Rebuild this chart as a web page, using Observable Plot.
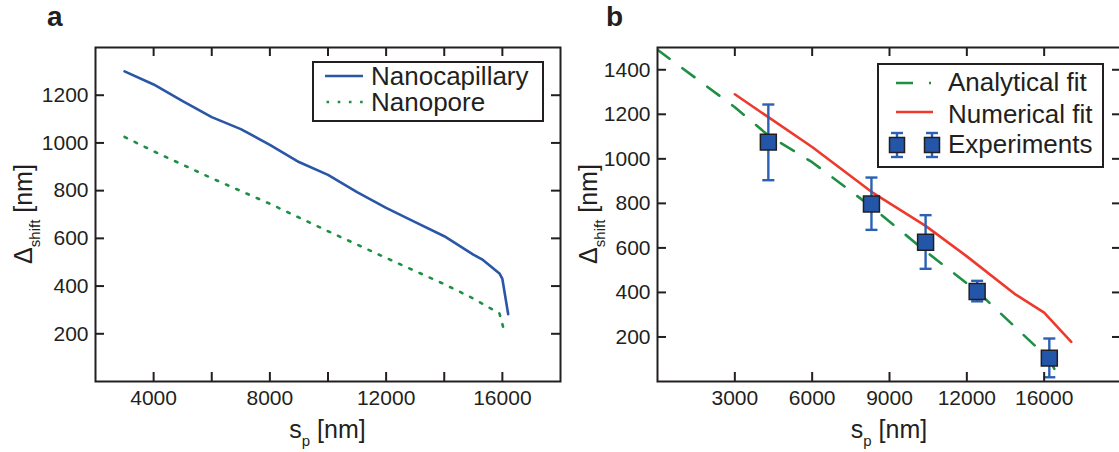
<!DOCTYPE html>
<html><head><meta charset="utf-8">
<script src="https://cdn.jsdelivr.net/npm/d3@7"></script>
<script src="https://cdn.jsdelivr.net/npm/@observablehq/plot@0.6"></script>
<style>
html,body{margin:0;padding:0;background:#fff;overflow:hidden;}
#wrap{position:relative;width:1119px;height:452px;overflow:hidden;background:#fff;}
#wrap svg{position:absolute;top:0;background:transparent;overflow:visible;}
</style></head><body><div id="wrap"></div>
<script>
// ---------- data: panel a ----------
const capX  = [3000,4000,5000,6000,7000,8000,9000,10000,11000,12000,13000,14000,15000,15300,15900,16000,16200];
const capY  = [1300,1245,1175,1108,1058,992,920,866,794,728,668,609,532,512,453,430,282];
const poreX = [3000,4000,6000,8000,10000,12000,14000,15000,15900,16100];
const poreY = [1025,965,852,745,630,518,408,348,285,195];
const aXTickMarks = [4000,6000,8000,10000,12000,14000,16000];
const aXTickLabels = [4000,8000,12000,16000];
const aYTicks = [200,400,600,800,1000,1200];
const aLegend = ["Nanocapillary","Nanopore"];

// ---------- data: panel b ----------
const anaX = [0,3000,4300,6000,8300,10400,12400,15200,15650];
const anaY = [1490,1232,1105,985,785,585,405,100,0];
const numX = [3000,4300,6000,8300,10400,12000,13900,15000,16050];
const numY = [1290,1187,1053,852,699,562,390,309,178];
const expX  = [4300,8300,10400,12400,15200];
const expY  = [1075,797,625,404,105];
const expLo = [904,681,506,360,19];
const expHi = [1244,916,747,452,193];
const bXTickValues = [3000,6000,9000,12000,15000];
const bXTickLabels = ["3000","6000","9000","12000","16000"];
const bYTicks = [200,400,600,800,1000,1200,1400];
const bLegend = ["Analytical fit","Numerical fit","Experiments"];

// ---------- styling ----------
const FONT = '"Liberation Sans", Arial, Helvetica, sans-serif';
const INK = "#231f20";
const BLUE = "#2a56a6", GREEN = "#1f8f45", RED = "#ee3a2c", SQ = "#2356a8", ERR = "#2b60b4";
const H = 452, MT = 47, MB = 71, PH = H - MT - MB, TICK = 9;

const capTable  = capX.map((x, i) => ({x, y: capY[i]}));
const poreTable = poreX.map((x, i) => ({x, y: poreY[i]}));
const anaTable  = anaX.map((x, i) => ({x, y: anaY[i]}));
const numTable  = numX.map((x, i) => ({x, y: numY[i]}));
const expTable  = expX.map((x, i) => ({x, y: expY[i], lo: expLo[i], hi: expHi[i]}));

const capSymbol = {draw(ctx, size) { const w = Math.sqrt(size / Math.PI); ctx.moveTo(-w, 0); ctx.lineTo(w, 0); }};
const plain = d => String(d);

function frameMarks(xt, yt, pw) {
  return [
    Plot.tickX(xt, {x: d => d, insetTop: PH - TICK, stroke: INK, strokeWidth: 2}),
    Plot.tickX(xt, {x: d => d, insetBottom: PH - TICK, stroke: INK, strokeWidth: 2}),
    Plot.tickY(yt, {y: d => d, insetRight: pw - TICK, stroke: INK, strokeWidth: 2}),
    Plot.tickY(yt, {y: d => d, insetLeft: pw - TICK, stroke: INK, strokeWidth: 2}),
    Plot.frame({stroke: INK, strokeWidth: 2})
  ];
}
const style = {fontSize: "21px", fontFamily: FONT, color: INK, background: "transparent"};

// ---------- panel a ----------
const WA = 562, MLA = 95, MRA = 2;
const plotA = Plot.plot({
  width: WA, height: H, marginLeft: MLA, marginRight: MRA, marginTop: MT, marginBottom: MB,
  style,
  x: {domain: [2000, 18000]},
  y: {domain: [0, 1400]},
  marks: [
    Plot.line(poreTable, {x: "x", y: "y", stroke: GREEN, strokeWidth: 2.6, strokeDasharray: "2.6,8.6"}),
    Plot.line(capTable, {x: "x", y: "y", stroke: BLUE, strokeWidth: 2.6}),
    ...frameMarks(aXTickMarks, aYTicks, WA - MLA - MRA),
    Plot.axisX({ticks: aXTickLabels, tickFormat: plain, tickSize: 0, tickPadding: 9, label: null}),
    Plot.axisY({ticks: aYTicks, tickFormat: plain, tickSize: 0, tickPadding: 7, label: null})
  ]
});
plotA.style.left = "0px";

// ---------- panel b ----------
const WB = 563, MLB = 97, MRB = 2;
const plotB = Plot.plot({
  width: WB, height: H, marginLeft: MLB, marginRight: MRB, marginTop: MT, marginBottom: MB,
  style,
  x: {domain: [0, 18000]},
  y: {domain: [0, 1500]},
  marks: [
    Plot.line(anaTable, {x: "x", y: "y", stroke: GREEN, strokeWidth: 2.6, strokeDasharray: "15,16", clip: true}),
    Plot.line(numTable, {x: "x", y: "y", stroke: RED, strokeWidth: 2.6}),
    Plot.ruleX(expTable, {x: "x", y1: "lo", y2: "hi", stroke: ERR, strokeWidth: 2.4}),
    Plot.dot(expTable, {x: "x", y: "lo", symbol: capSymbol, r: 6, stroke: ERR, strokeWidth: 2.4}),
    Plot.dot(expTable, {x: "x", y: "hi", symbol: capSymbol, r: 6, stroke: ERR, strokeWidth: 2.4}),
    Plot.dot(expTable, {x: "x", y: "y", symbol: "square", r: 9, fill: SQ, stroke: INK, strokeWidth: 1.5}),
    ...frameMarks(bXTickValues, bYTicks, WB - MLB - MRB),
    Plot.axisX({ticks: bXTickValues, tickFormat: d => bXTickLabels[bXTickValues.indexOf(d)], tickSize: 0, tickPadding: 9, label: null}),
    Plot.axisY({ticks: bYTicks, tickFormat: plain, tickSize: 0, tickPadding: 7, label: null})
  ]
});
plotB.style.left = "560px";

const wrap = document.getElementById("wrap");
wrap.appendChild(plotA);
wrap.appendChild(plotB);

// ---------- titles & legends ----------
function txt(sel, x, y, size, str, anchor = "start") {
  return sel.append("text").attr("x", x).attr("y", y).attr("text-anchor", anchor)
    .attr("font-family", FONT).attr("font-size", size).attr("fill", INK).text(str);
}
function titles(svg, ml, mr, w, panelLetter, letterX, yTitleX) {
  const s = d3.select(svg);
  const cx = (ml + (w - mr)) / 2, cy = MT + PH / 2;
  const xt = s.append("text").attr("x", cx).attr("y", 438).attr("text-anchor", "middle")
    .attr("font-family", FONT).attr("font-size", 25).attr("fill", INK);
  xt.append("tspan").text("s");
  xt.append("tspan").attr("font-size", 15).attr("dy", 8).text("p");
  xt.append("tspan").attr("dy", -8).text(" [nm]");
  const yt = s.append("text").attr("transform", `translate(${yTitleX},${cy}) rotate(-90)`).attr("text-anchor", "middle")
    .attr("font-family", FONT).attr("font-size", 25).attr("fill", INK);
  yt.append("tspan").text("Δ");
  yt.append("tspan").attr("font-size", 15).attr("dy", 8).text("shift");
  yt.append("tspan").attr("dy", -8).text(" [nm]");
  txt(s, letterX, 26, 28, panelLetter).attr("font-weight", "bold");
}
titles(plotA, MLA, MRA, WA, "a", 47, 32);
titles(plotB, MLB, MRB, WB, "b", 46, 37);

// legend a
{
  const g = d3.select(plotA).append("g");
  g.append("rect").attr("x", 313).attr("y", 62).attr("width", 230).attr("height", 59)
    .attr("fill", "#fff").attr("stroke", INK).attr("stroke-width", 2);
  g.append("line").attr("x1", 325).attr("x2", 363).attr("y1", 76).attr("y2", 76).attr("stroke", BLUE).attr("stroke-width", 2.6);
  g.append("line").attr("x1", 326.5).attr("x2", 363).attr("y1", 102).attr("y2", 102).attr("stroke", GREEN).attr("stroke-width", 2.6).attr("stroke-dasharray", "2.6,8.6");
  txt(g, 371, 85, 26, aLegend[0]);
  txt(g, 371, 111, 26, aLegend[1]);
}
// legend b (coordinates within svg B)
{
  const g = d3.select(plotB).append("g");
  g.append("rect").attr("x", 318).attr("y", 64).attr("width", 225).attr("height", 103)
    .attr("fill", "#fff").attr("stroke", INK).attr("stroke-width", 2);
  g.append("line").attr("x1", 336).attr("x2", 373).attr("y1", 83).attr("y2", 83).attr("stroke", GREEN).attr("stroke-width", 2.6).attr("stroke-dasharray", "17,16,2,10");
  g.append("line").attr("x1", 336).attr("x2", 373).attr("y1", 112).attr("y2", 112).attr("stroke", RED).attr("stroke-width", 2.6);
  [337, 372].forEach(cx => {
    g.append("line").attr("x1", cx).attr("x2", cx).attr("y1", 133).attr("y2", 157).attr("stroke", ERR).attr("stroke-width", 2.4);
    g.append("line").attr("x1", cx - 6).attr("x2", cx + 6).attr("y1", 133).attr("y2", 133).attr("stroke", ERR).attr("stroke-width", 2.4);
    g.append("line").attr("x1", cx - 6).attr("x2", cx + 6).attr("y1", 157).attr("y2", 157).attr("stroke", ERR).attr("stroke-width", 2.4);
    g.append("rect").attr("x", cx - 7.5).attr("y", 137.5).attr("width", 15).attr("height", 15).attr("fill", SQ).attr("stroke", INK).attr("stroke-width", 1.5);
  });
  [91, 123, 153].forEach((y, i) => txt(g, 388, y, 26, bLegend[i]));
}
</script></body></html>
